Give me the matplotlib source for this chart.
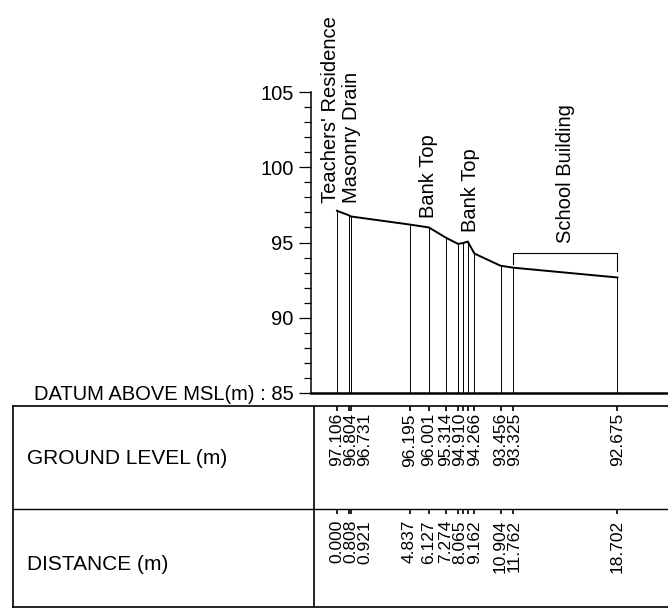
#!/usr/bin/env python3
"""
Ground profile (cross section) with the level / distance table under it.
"""

import matplotlib.pyplot as plt

plt.rcParams['font.family'] = ['Liberation Sans', 'DejaVu Sans']

# stations along the section (m)
distance = [0.000, 0.808, 0.921, 4.837, 6.127, 7.274, 8.065, 8.40, 8.72,
            9.162, 10.904, 11.762, 18.702]
ground_level = [97.106, 96.804, 96.731, 96.195, 96.001, 95.314, 94.910, 94.96,
                95.06, 94.266, 93.456, 93.325, 92.675]
# stations that get printed in the table
labelled = [0, 1, 2, 3, 4, 5, 6, 9, 10, 11, 12]

feature_names = ["Teachers' Residence", "Masonry Drain", "Bank Top", "Bank Top"]
feature_station = [0, 1, 4, 8]
building_name = "School Building"
building_span = [11, 12]

datum = 85
y_ticks = [85, 90, 95, 100, 105]
y_tick_labels = ['DATUM ABOVE MSL(m) : 85', '90', '95', '100', '105']
row_names = ['GROUND LEVEL (m)', 'DISTANCE (m)']

W, H = 668, 613


def main():
    fig = plt.figure(figsize=(W / 100, H / 100), dpi=100)
    fig.patch.set_facecolor('white')

    # --- profile ---
    x0, x1 = -1.73, 22.07
    ax = fig.add_axes([311 / W, (H - 393) / H, (W - 311) / W, (393 - 92) / H])
    ax.set_xlim(x0, x1)
    ax.set_ylim(datum, 105)
    px = (W - 311) / (x1 - x0)  # pixels per metre

    ax.spines['top'].set_visible(False)
    ax.spines['right'].set_visible(False)
    ax.spines['left'].set_linewidth(1.1)
    ax.spines['bottom'].set_linewidth(1.8)
    ax.set_xticks([])
    ax.set_yticks(y_ticks)
    ax.set_yticklabels(y_tick_labels)
    ax.set_yticks(range(datum, 106), minor=True)
    ax.tick_params(axis='y', which='major', length=8.5, width=0.9, pad=4, labelsize=14.5)
    ax.tick_params(axis='y', which='minor', length=5, width=0.9)

    ax.vlines(distance, datum, ground_level, color='black', lw=0.7)
    ax.plot(distance, ground_level, color='black', lw=1.4, solid_joinstyle='miter')

    dx = [-0.4, 0.15, 0.0, 0.2]
    dy = [0.55, 0.85, 0.65, 0.65]
    for name, st, ddx, ddy in zip(feature_names, feature_station, dx, dy):
        ax.text(distance[st] + ddx, ground_level[st] + ddy, name, rotation=90,
                ha='center', va='bottom', fontsize=14.5, clip_on=False)

    a, b = building_span
    top = max(ground_level[a], ground_level[b]) + 0.95
    ax.plot([distance[a], distance[a], distance[b], distance[b]],
            [ground_level[a] + 0.25, top, top, ground_level[b] + 0.45],
            color='black', lw=0.8)
    ax.text((distance[a] + distance[b]) / 2, top + 0.7, building_name, rotation=90,
            ha='center', va='bottom', fontsize=14.5, clip_on=False)

    # --- table ---
    t_top, t_bot = 406, 607
    tab = fig.add_axes([13 / W, (H - t_bot) / H, (W - 13) / W, (t_bot - t_top) / H])
    tab.set_xlim(x0 - (311 - 13) / px, x1)
    tab.set_ylim(0, 1)
    tab.set_xticks([])
    tab.set_yticks([])
    tab.spines['right'].set_visible(False)
    for s in ['top', 'left', 'bottom']:
        tab.spines[s].set_linewidth(1.2)
    row_div = (t_bot - 509) / (t_bot - t_top)
    tick = 5 / (t_bot - t_top)
    tab.axhline(row_div, color='black', lw=1.0)
    tab.axvline(x0 + 3 / px, color='black', lw=1.2)

    tab.vlines(distance, 1 - tick, 1, color='black', lw=1.2)
    tab.vlines(distance, row_div - tick, row_div, color='black', lw=1.2)

    # push crowded labels apart
    gap = 14 / px
    xs = []
    for i in labelled:
        x = distance[i]
        if xs and x - xs[-1] < gap:
            x = xs[-1] + gap
        xs.append(x)

    for x, i in zip(xs, labelled):
        tab.text(x, 0.965, f"{ground_level[i]:.3f}", rotation=90,
                 ha='center', va='top', fontsize=12.5)
        tab.text(x, row_div - 0.055, f"{distance[i]:.3f}", rotation=90,
                 ha='center', va='top', fontsize=12.5)

    tab.text(14 / (W - 13), 0.741, row_names[0], ha='left', va='center',
             fontsize=15, transform=tab.transAxes)
    tab.text(14 / (W - 13), 0.209, row_names[1], ha='left', va='center',
             fontsize=15, transform=tab.transAxes)

    fig.savefig('out.png', dpi=100, facecolor='white')


if __name__ == '__main__':
    main()
